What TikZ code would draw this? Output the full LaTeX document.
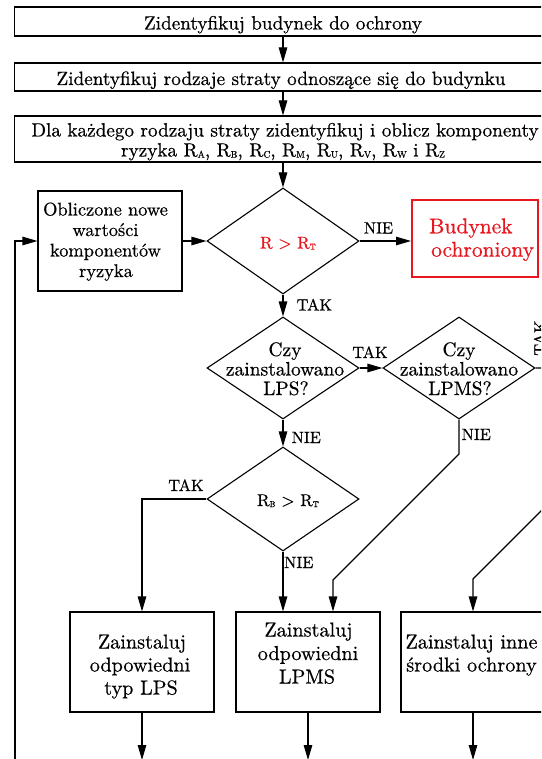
\documentclass[tikz,border=0pt]{standalone}
\usepackage{fontspec}
\setmainfont{lmroman10-regular.otf}[FakeBold=0.5]
\usepackage{graphicx}
\usetikzlibrary{arrows.meta,shapes.geometric}
\definecolor{redc}{RGB}{232,22,30}
\newcommand\sbs[1]{\raisebox{-0.06em}{\scalebox{0.5}{#1}}}
\newcommand\fz[2]{\fontsize{#1}{#2}\selectfont}
\begin{document}
\begin{tikzpicture}[x=1pt,y=-1pt,
  ln/.style={line width=1.1pt},
  arr/.style={ln,-{Triangle[length=15pt,width=8.5pt]}},
  box/.style={draw,ln,rectangle,inner sep=0pt},
  dia/.style={draw,ln,diamond,inner sep=0pt,minimum width=152pt},
  txt/.style={inner sep=0pt,anchor=base,font=\fz{19.2}{20}},
  dtxt/.style={inner sep=0pt,anchor=base,font=\fz{19.5}{20}},
  btxt/.style={inner sep=0pt,anchor=base,font=\fz{20.2}{23}},
  otxt/.style={inner sep=0pt,anchor=base,font=\fz{18.4}{20}},
  lbl/.style={inner sep=0pt,font=\fz{16.3}{18}},
]
\useasboundingbox (0,0) rectangle (541,759);
\fill[white] (0,0) rectangle (541,759);
\clip (0,0) rectangle (541,759);

% top boxes
\node[box,minimum width=536.6pt,minimum height=29pt] (b1) at (283,21.5) {};
\node[box,minimum width=536.6pt,minimum height=28pt] (b2) at (283,77) {};
\node[box,minimum width=536.6pt,minimum height=46pt] (b3) at (283,139) {};
\node[txt] (t1) at (283,29.5) {Zidentyfikuj budynek do ochrony};
\node[txt] (t2) at (281,85) {Zidentyfikuj rodzaje straty odnoszące się do budynku};
\node[txt] (t3a) at (285,136.5) {Dla każdego rodzaju straty zidentyfikuj i oblicz komponenty};
\node[txt] (t3b) at (283,156.5) {ryzyka R\sbs{A}, R\sbs{B}, R\sbs{C}, R\sbs{M}, R\sbs{U}, R\sbs{V}, R\sbs{W} i R\sbs{Z}};

% decision 1 row
\node[dia,minimum height=106pt] (d1) at (283,241) {};
\node[inner sep=0pt,anchor=base,font=\fz{17}{18},text=redc] (d1t) at (288,248.5) {R > R\sbs{T}};
\node[box,minimum width=144pt,minimum height=100pt] (obl) at (110,241) {};
\node[otxt] (o1) at (105.5,215.5) {Obliczone nowe};
\node[otxt] (o2) at (105.5,236) {wartości};
\node[otxt] (o3) at (105.5,256.5) {komponentów};
\node[otxt] (o4) at (106,277) {ryzyka};
\node[draw=redc,line width=2pt,rectangle,inner sep=0pt,minimum width=126pt,minimum height=77pt] (red) at (475,238.5) {};
\node[inner sep=0pt,anchor=base west,font=\fz{21.5}{23},text=redc] (r1) at (429,233.3) {Budynek};
\node[inner sep=0pt,anchor=base west,font=\fz{21.5}{23},text=redc] (r2) at (431,256.7) {ochroniony};

% decisions 2,3
\node[dia,minimum height=102pt] (d2) at (283,368) {};
\node[dtxt] (d2a) at (285,356) {Czy};
\node[dtxt] (d2b) at (285,375.5) {zainstalowano};
\node[dtxt] (d2c) at (286,395) {LPS?};
\node[dia,minimum height=102pt] (d3) at (459,368) {};
\node[dtxt] (d3a) at (459,356) {Czy};
\node[dtxt] (d3b) at (459,375.5) {zainstalowano};
\node[dtxt] (d3c) at (460,395) {LPMS?};

% decision 4
\node[dia,minimum height=104pt] (d4) at (283,499) {};
\node[inner sep=0pt,anchor=base,font=\fz{17}{18}] (d4t) at (288,506) {R\sbs{B} > R\sbs{T}};

% bottom boxes
\node[box,minimum width=144pt,minimum height=100pt] (bA) at (142,662) {};
\node[box,minimum width=144pt,minimum height=100pt] (bB) at (308,662) {};
\node[box,minimum width=144pt,minimum height=100pt] (bC) at (473,662) {};
\node[btxt] (a1) at (142,648.5) {Zainstaluj};
\node[btxt] (a2) at (140,671.5) {odpowiedni};
\node[btxt] (a3) at (141,694.5) {typ LPS};
\node[btxt] (bb1) at (308.5,636.5) {Zainstaluj};
\node[btxt] (bb2) at (308,660) {odpowiedni};
\node[btxt] (bb3) at (307,683.5) {LPMS};
\node[btxt] (c1) at (471.5,648.5) {Zainstaluj inne};
\node[btxt] (c2) at (471.5,671.5) {środki ochrony};

% labels
\node[lbl,anchor=base] (l1) at (378.5,233.5) {NIE};
\node[lbl,anchor=base west] (l2) at (296.5,310.5) {TAK};
\node[lbl,anchor=base] (l3) at (370,358) {TAK};
\node[lbl,anchor=base west] (l4) at (291.5,443) {NIE};
\node[lbl,anchor=base west] (l5) at (461.5,440) {NIE};
\node[lbl,anchor=base] (l6) at (186,491) {TAK};
\node[lbl,anchor=base west] (l7) at (284,568) {NIE};
\node[lbl,anchor=base,rotate=90] (l8) at (545.5,338) {TAK};

% helper coordinates
\coordinate (lp) at (15,775);
\coordinate (k1) at (459,454);
\coordinate (k2) at (333,580);
\coordinate (k3) at (562,368);
\coordinate (k4) at (562,490);
\coordinate (k5) at (473,579);
\coordinate (eA) at (142,760);
\coordinate (eB) at (308,760);
\coordinate (eC) at (473,760);

% connectors
\draw[arr] (b1.south) -- (b2.north);
\draw[arr] (b2.south) -- (b3.north);
\draw[arr] (b3.south) -- (d1.north);
\draw[arr] (obl.east) -- (d1.west);
\draw[arr] (d1.east) -- (d1.east -| red.west);
\draw[arr] (lp) |- (obl.west);
\draw[arr] (d1.south) -- (d2.north);
\draw[arr] (d2.east) -- (d3.west);
\draw[arr] (d2.south) -- (d4.north);
\draw[arr] (d4.west) -| (bA.north);
\draw[arr] (d4.south) -- (d4.south |- bB.north);
\draw[arr] (d3.south) -- (k1) -- (k2) -- (k2 |- bB.north);
\draw[arr] (d3.east) -- (k3) -- (k4) -- (k5) -- (k5 |- bC.north);
\draw[arr] (bA.south) -- (eA);
\draw[arr] (bB.south) -- (eB);
\draw[arr] (bC.south) -- (eC);
\end{tikzpicture}
\end{document}
